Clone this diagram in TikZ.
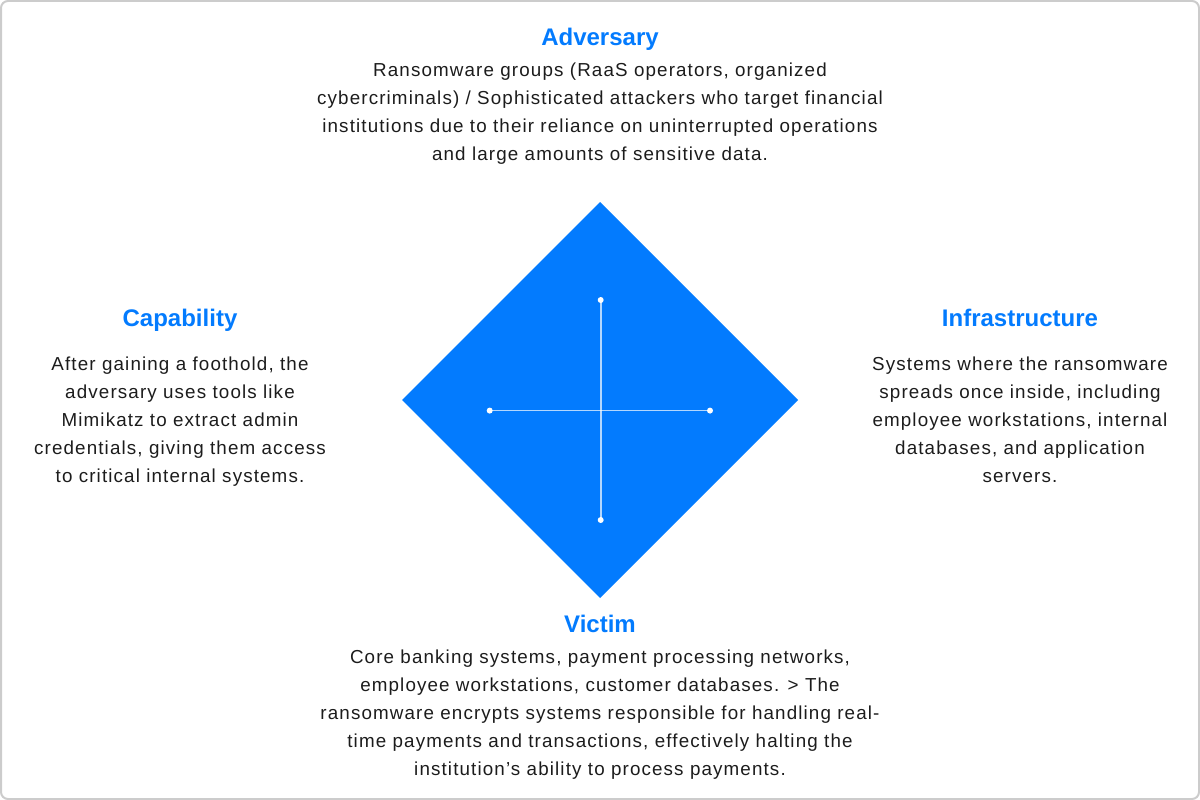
\documentclass[tikz,border=0pt]{standalone}
\usepackage{fontspec}
\setmainfont{Liberation Sans}
\newfontfamily\bodyfont[LetterSpace=6]{Liberation Sans}
\definecolor{brandblue}{HTML}{037BFE}
\definecolor{bodyink}{HTML}{1C1C1C}
\definecolor{frame}{HTML}{CCCCCC}
\begin{document}
\begin{tikzpicture}[x=1pt,y=-1pt,
  heading/.style={font=\fontsize{24}{28}\selectfont\bfseries, text=brandblue, inner sep=0pt, anchor=base},
  body/.style={font=\bodyfont\fontsize{18.8}{28}\selectfont, text=bodyink, align=center, inner sep=0pt, anchor=north},
  dot/.style={circle, fill=white, inner sep=0pt, minimum size=6pt},
  axis/.style={draw=white, draw opacity=0.7, line width=1.7pt}
]
\useasboundingbox (0,0) rectangle (1200,800);
\draw[frame, line width=2pt, rounded corners=7pt] (1,1) rectangle (1199,799);

% diamond
\coordinate (dtop) at (600,202);
\coordinate (dright) at (798,400);
\coordinate (dbottom) at (600,598);
\coordinate (dleft) at (402,400);
\fill[brandblue] (dtop) -- (dright) -- (dbottom) -- (dleft) -- cycle;

% cross inside the diamond
\node[dot] (ctop) at (600.7,300) {};
\node[dot] (cbottom) at (600.7,520) {};
\node[dot] (cleft) at (489.7,410.6) {};
\node[dot] (cright) at (710,410.6) {};
\draw[axis] (ctop.center) -- (cbottom.center);
\draw[axis] (cleft.center) -- (cright.center);

% Adversary
\node[heading] (advT) at (600,46) {Adversary};
\node[body] (advB) at (600,63) {Ransomware groups (RaaS operators, organized\\cybercriminals) / Sophisticated attackers who target financial\\institutions due to their reliance on uninterrupted operations\\and large amounts of sensitive data.};

% Capability
\node[heading] (capT) at (180,326) {Capability};
\node[body] (capB) at (180,357) {After gaining a foothold, the\\adversary uses tools like\\Mimikatz to extract admin\\credentials, giving them access\\to critical internal systems.};

% Infrastructure
\node[heading] (infT) at (1020,326) {Infrastructure};
\node[body] (infB) at (1020,357) {Systems where the ransomware\\spreads once inside, including\\employee workstations, internal\\databases, and application\\servers.};

% Victim
\node[heading] (vicT) at (600,632) {Victim};
\node[body] (vicB) at (600,650) {Core banking systems, payment processing networks,\\employee workstations, customer databases. > The\\ransomware encrypts systems responsible for handling real-\\time payments and transactions, effectively halting the\\institution’s ability to process payments.};
\end{tikzpicture}
\end{document}
